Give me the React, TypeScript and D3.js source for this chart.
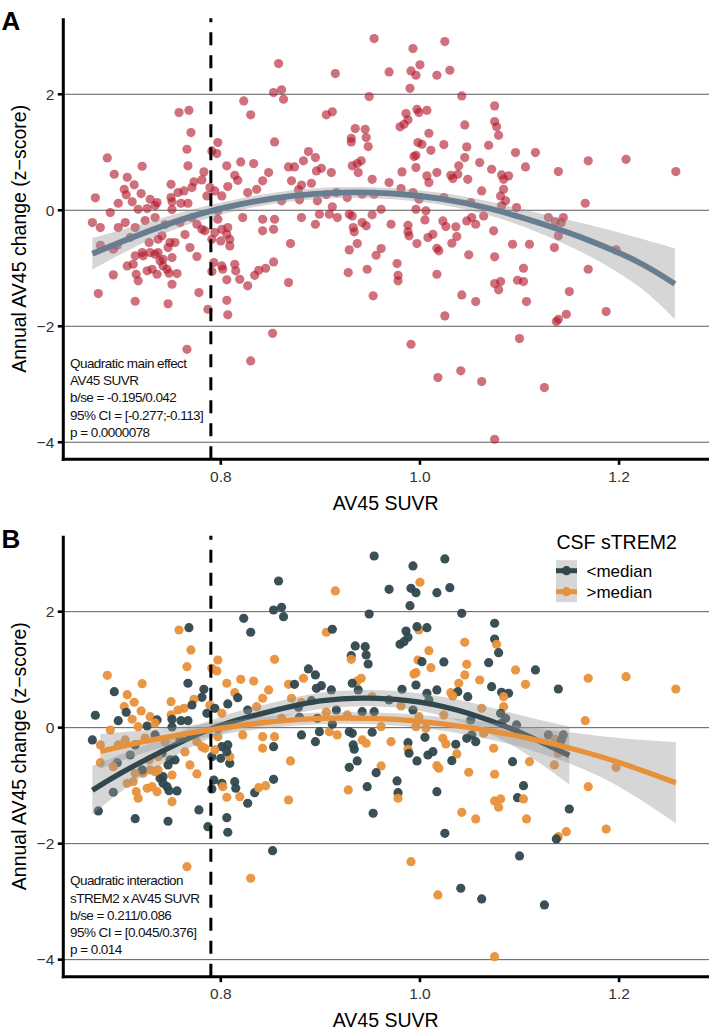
import React from "react";
import * as d3 from "d3";

// ---------- data ----------
const suvr = [
  0.768, 0.758, 0.770, 0.766, 0.797, 0.791, 0.796, 0.823, 0.830, 0.853,
  0.861, 0.863, 0.854, 0.906, 0.912, 0.686, 0.721, 0.693, 0.706, 0.713,
  0.703, 0.705, 0.720, 0.674, 0.697, 0.711, 0.729, 0.736, 0.750, 0.767,
  0.783, 0.781, 0.773, 0.763, 0.757, 0.771, 0.750, 0.760, 0.767, 0.789,
  0.794, 0.786, 0.806, 0.820, 0.833, 0.814, 0.817, 0.807, 0.801, 0.848,
  0.842, 0.868, 0.874, 0.883, 0.888, 0.895, 0.901, 0.896, 0.871, 0.878,
  0.836, 0.827, 0.861, 0.897, 0.911, 0.751, 0.671, 0.679, 0.679, 0.696,
  0.677, 0.692, 0.714, 0.747, 0.717, 0.706, 0.712, 0.715, 0.717, 0.726,
  0.731, 0.736, 0.742, 0.746, 0.748, 0.756, 0.751, 0.739, 0.742, 0.751,
  0.747, 0.749, 0.729, 0.734, 0.737, 0.722, 0.721, 0.714, 0.741, 0.776,
  0.778, 0.787, 0.806, 0.807, 0.791, 0.793, 0.801, 0.802, 0.814, 0.815,
  0.806, 0.819, 0.827, 0.834, 0.838, 0.845, 0.853, 0.868, 0.870, 0.809,
  0.800, 0.791, 0.809, 0.801, 0.807, 0.806, 0.794, 0.781, 0.784, 0.776,
  0.771, 0.797, 0.797, 0.822, 0.842, 0.842, 0.854, 0.853, 0.881, 0.895,
  0.899, 0.909, 0.692, 0.728, 0.737, 0.704, 0.714, 0.724, 0.734, 0.744,
  0.759, 0.764, 0.754, 0.689, 0.697, 0.709, 0.769, 0.726, 0.734, 0.751,
  0.990, 0.949, 1.042, 1.075, 0.999, 0.997, 1.007, 0.986, 0.988, 0.980,
  0.984, 1.075, 1.077, 1.079, 1.045, 0.935, 0.945, 0.931, 0.946, 0.931,
  0.948, 1.009, 0.998, 0.996, 0.994, 1.002, 1.011, 1.024, 1.047, 1.045,
  1.039, 1.060, 1.069, 1.096, 1.116, 1.106, 1.072, 1.082, 1.089, 1.084,
  1.084, 1.139, 1.169, 1.166, 0.937, 0.941, 0.932, 0.938, 0.982, 0.996,
  1.007, 1.017, 1.031, 1.038, 1.048, 1.033, 0.916, 0.942, 0.954, 0.927,
  0.952, 0.969, 0.981, 0.993, 0.999, 1.009, 1.024, 1.051, 1.062, 1.081,
  1.086, 0.954, 0.993, 1.025, 1.000, 0.969, 0.991, 0.996, 1.017, 1.030,
  0.858, 0.915, 1.207, 1.257, 0.929, 0.932, 0.917, 0.952, 0.933, 0.934,
  0.942, 0.946, 0.937, 0.929, 0.961, 0.956, 0.971, 0.988, 0.988, 0.989,
  0.997, 1.005, 1.008, 1.013, 1.023, 1.026, 1.036, 1.037, 1.032, 1.017,
  1.019, 0.947, 0.928, 0.977, 0.978, 0.978, 0.953, 1.017, 1.049, 1.075,
  1.074, 1.047, 1.056, 1.064, 1.093, 1.110, 1.104, 1.098, 1.104, 1.075,
  1.081, 1.079, 1.042, 1.056, 1.025, 1.107, 1.150, 1.147, 1.139, 1.137,
  1.169, 1.129, 1.136, 1.142, 1.144, 1.135, 1.139, 1.097, 1.082, 1.052,
  0.996, 1.006, 0.961, 1.187, 1.197, 0.991, 1.018, 1.041, 1.062, 1.100,
  1.125, 1.075, 0.852, 0.766, 0.830, 0.891, 0.879, 0.881, 0.906, 0.912,
];

const zChange = [
  1.724, 1.684, 1.340, 1.052, 1.167, 1.024, 0.978, 1.886, 1.645, 2.029,
  2.076, 1.914, 1.179, 1.645, 1.697, 0.903, 0.759, 0.621, 0.569, 0.438,
  0.362, 0.266, 0.288, 0.214, 0.121, 0.145, 0.190, 0.133, 0.448, 0.766,
  0.662, 0.524, 0.490, 0.334, 0.305, 0.391, 0.219, 0.121, 0.121, 0.391,
  0.334, 0.248, 0.766, 0.834, 0.805, 0.603, 0.517, 0.409, 0.248, 0.650,
  0.507, 0.748, 0.748, 0.852, 1.012, 0.909, 0.724, 0.679, 0.507, 0.352,
  0.362, 0.305, 0.162, 0.162, 0.650, 0.145, -0.212, -0.298, -0.603, -0.603,
  -1.436, -1.114, -1.569, -1.614, 0.017, -0.959, -0.931, -1.103, -1.217, -1.045,
  -1.017, -1.103, -0.959, -1.017, -1.086, -1.091, -1.276, -0.872, -0.845, -0.816,
  -0.643, -0.557, -0.729, -0.759, -0.729, -0.786, -0.729, -0.786, -0.441, -0.798,
  -1.419, -1.707, -1.552, -1.803, -1.057, -0.902, -0.959, -1.017, -0.931, -1.045,
  -1.200, -1.190, -1.303, -1.121, -1.034, -1.000, -0.890, -1.247, -0.574, -0.614,
  -0.528, -0.500, -0.500, -0.328, -0.298, -0.414, -0.384, -0.328, -0.355, -0.241,
  -0.126, -0.155, -0.010, -0.126, -0.355, -0.155, -0.155, -0.328, -0.126, -0.241,
  -0.069, -0.069, -0.672, -0.557, -0.500, -0.212, -0.298, -0.178, -0.126, -0.247,
  -0.212, -0.419, -0.557, -0.040, -0.298, -0.471, -0.643, 0.029, 0.081, 0.012,
  2.103, 1.960, 1.972, 1.800, 1.684, 1.741, 1.724, 1.667, 1.559, 1.438,
  1.483, 1.529, 1.438, 1.293, 1.472, 1.409, 1.397, 1.241, 1.253, 1.179,
  1.098, 1.328, 1.167, 0.948, 0.926, 1.138, 1.034, 1.133, 1.093, 0.909,
  0.766, 0.822, 1.121, 0.995, 0.995, 0.748, 0.707, 0.610, 0.593, 0.534,
  0.362, 0.667, 0.852, 0.121, 0.805, 0.852, 0.766, 0.650, 0.662, 0.736,
  0.593, 0.650, 0.603, 0.621, 0.534, 0.547, 0.305, 0.276, 0.276, 0.219,
  0.534, 0.478, 0.374, 0.305, 0.190, 0.478, 0.219, 0.133, 0.334, 0.248,
  0.162, 2.960, 2.788, 2.909, 2.507, 2.386, 2.403, 2.328, 2.328, 2.414,
  2.529, 2.357, 0.879, 0.667, -0.069, -0.097, -0.126, -0.079, -0.298, -0.372,
  -0.212, -0.269, -0.574, -0.683, -0.660, -0.776, -0.241, -0.259, -0.372, -0.441,
  -0.574, -0.166, -0.471, -0.414, -0.183, -0.281, -0.286, -0.453, -0.569, -0.655,
  -0.700, -1.017, -1.074, -0.919, -1.121, -1.217, -1.476, -1.103, -0.769, -0.803,
  -0.355, -0.183, -0.241, -0.097, -0.586, -0.586, -1.000, -1.207, -1.229, -1.264,
  -1.229, -1.372, -1.459, -1.574, -1.821, -1.574, -1.402, -1.793, -1.879, -1.919,
  -1.017, -0.126, -0.200, -0.212, -0.126, -0.643, -0.441, 0.047, 0.076, -0.126,
  0.017, -0.010, 0.017, -1.747, -0.683, -2.310, -2.884, -2.769, -2.953, -2.212,
  -3.057, -3.948, -2.121, -2.397, -2.597, 0.466, 0.180, 0.436, 0.270, 0.060,
];

// 0 = <median, 1 = >median CSF sTREM2
const strem2 = [
  0,1,1,1,1,1,1,0,0,0, 0,0,1,1,0,1,1,0,1,1, 1,0,1,0,0,1,1,0,1,0,
  0,0,1,1,1,0,1,0,0,1, 0,0,1,1,1,1,0,0,1,1, 1,1,0,1,0,0,0,0,1,0,
  1,0,1,0,0,0,0,1,1,0, 0,0,0,0,1,1,1,1,1,1, 1,1,0,0,0,0,1,0,0,1,
  0,0,1,1,1,1,0,1,0,1, 0,0,0,0,0,0,0,1,0,0, 1,1,0,0,1,1,0,1,1,0,
  0,0,1,0,0,0,1,1,1,1, 1,1,0,1,1,1,1,0,0,0, 0,1,1,1,1,1,0,1,0,1,
  0,1,0,1,1,0,1,0,1,0, 0,0,0,0,1,0,0,0,0,0, 0,0,1,0,1,0,0,0,0,1,
  0,1,1,1,1,0,1,0,1,1, 1,1,0,1,0,1,0,0,0,1, 1,0,1,1,1,1,0,0,0,0,
  0,0,1,0,0,1,0,0,0,1, 1,0,1,0,1,0,1,0,1,0, 0,0,0,0,1,0,0,0,0,0,
  0,1,1,1,0,0,1,0,0,0, 1,1,0,0,1,0,1,0,1,0, 0,0,0,0,1,1,0,1,0,1,
  1,0,1,0,0,1,0,0,1,1, 1,0,0,1,0,1,0,0,1,1, 1,1,1,1,0,1,0,1,1,0,
  1,0,1,0,0,1,1,0,0,0, 1,1,1,1,1,1,1,0,0,0, 0,1,0,1,1,0,0,1,1,0,
];
const groupLabels = ["<median", ">median"];

// fitted quadratic curves with 95% bands
const fitAllX = [0.671, 0.72, 0.77, 0.82, 0.87, 0.92, 0.97, 1.02, 1.07, 1.12, 1.17, 1.22, 1.256];
const fitAllY = [-0.75, -0.41, -0.11, 0.105, 0.245, 0.305, 0.29, 0.2, 0.03, -0.22, -0.52, -0.9, -1.27];
const fitAllLo = [-1.02, -0.58, -0.23, 0.005, 0.15, 0.21, 0.195, 0.1, -0.09, -0.39, -0.79, -1.32, -1.88];
const fitAllHi = [-0.48, -0.24, 0.01, 0.205, 0.34, 0.4, 0.385, 0.3, 0.15, -0.05, -0.25, -0.48, -0.66];

const fitLowX = [0.671, 0.70, 0.75, 0.80, 0.85, 0.90, 0.95, 1.00, 1.05, 1.10, 1.150];
const fitLowY = [-1.08, -0.78, -0.33, 0.04, 0.28, 0.46, 0.51, 0.44, 0.24, -0.08, -0.48];
const fitLowLo = [-1.5, -1.1, -0.53, -0.11, 0.14, 0.32, 0.37, 0.29, 0.04, -0.38, -0.98];
const fitLowHi = [-0.66, -0.46, -0.13, 0.19, 0.42, 0.6, 0.65, 0.59, 0.44, 0.22, 0.02];

const fitHighX = [0.679, 0.72, 0.76, 0.80, 0.85, 0.90, 0.95, 1.00, 1.05, 1.10, 1.15, 1.20, 1.257];
const fitHighY = [-0.41, -0.25, -0.12, -0.01, 0.1, 0.16, 0.16, 0.11, 0.0, -0.15, -0.35, -0.6, -0.95];
const fitHighLo = [-0.71, -0.45, -0.26, -0.12, 0.0, 0.06, 0.06, 0.0, -0.13, -0.33, -0.62, -1.02, -1.65];
const fitHighHi = [-0.11, -0.05, 0.02, 0.1, 0.2, 0.26, 0.26, 0.22, 0.13, 0.03, -0.08, -0.18, -0.25];

const xTicks = [0.8, 1.0, 1.2];
const yTicks = [-4, -2, 0, 2];
const cutoff = 0.79;
const xLim = [0.6418, 1.2893];
const yLim = [-4.294, 3.31];

const annotA = ["Quadratic main effect", "AV45 SUVR", "b/se = -0.195/0.042", "95% CI = [-0.277;-0.113]", "p = 0.0000078"];
const annotB = ["Quadratic interaction", "sTREM2 x AV45 SUVR", "b/se = 0.211/0.086", "95% CI = [0.045/0.376]", "p = 0.014"];

// ---------- styling ----------
const FONT = "'Liberation Sans', Arial, Helvetica, sans-serif";
const RED = "#B2182B";
const SLATE = "#687D8F";
const DARK = "#2F474D";
const ORANGE = "#E8913A";
const groupColors = [DARK, ORANGE];
const RIBBON = "#999999";
const R = 4.6;

const fmt = (v: number) => (v < 0 ? "\u2212" + Math.abs(v) : String(v));

export default function App() {
  const x = d3.scaleLinear().domain(xLim).range([63.3, 708]);
  const left = x(xLim[0]);
  const right = 709;

  const panel = (
    key: string,
    y: d3.ScaleLinear<number, number>,
    annot: string[],
    content: React.ReactNode
  ) => {
    const bottom = y(yLim[0]);
    const top = y(yLim[1]);
    const mid = (top + bottom) / 2;
    return (
      <g key={key}>
        {yTicks.map((t) => (
          <line key={"g" + t} x1={left} x2={right} y1={y(t)} y2={y(t)} stroke="#4a4a4a" strokeWidth={0.9} />
        ))}
        {content}
        <line
          x1={x(cutoff)} x2={x(cutoff)} y1={bottom} y2={top}
          stroke="#000" strokeWidth={3} strokeDasharray="13 10"
        />
        {annot.map((s, i) => (
          <text key={"a" + i} x={70} y={bottom - 91.4 + 17.2 * i} fontSize={13.5}
            letterSpacing={-0.55} fontFamily={FONT} fill="#111">{s}</text>
        ))}
        {/* axes */}
        <line x1={left} x2={left} y1={top} y2={bottom + 1.5} stroke="#000" strokeWidth={3} />
        <line x1={left - 1.5} x2={right} y1={bottom} y2={bottom} stroke="#000" strokeWidth={3} />
        {yTicks.map((t) => (
          <g key={"yt" + t}>
            <line x1={left - 5.5} x2={left} y1={y(t)} y2={y(t)} stroke="#000" strokeWidth={2.6} />
            <text x={left - 9} y={y(t) + 5.5} textAnchor="end" fontSize={15.5} fontFamily={FONT} fill="#333">{fmt(t)}</text>
          </g>
        ))}
        {xTicks.map((t) => (
          <g key={"xt" + t}>
            <line x1={x(t)} x2={x(t)} y1={bottom} y2={bottom + 5.5} stroke="#000" strokeWidth={2.6} />
            <text x={x(t)} y={bottom + 22.5} textAnchor="middle" fontSize={15.5} fontFamily={FONT} fill="#333">{t.toFixed(1)}</text>
          </g>
        ))}
        <text x={(left + 708) / 2} y={bottom + 50.5} textAnchor="middle" fontSize={19.5} fontFamily={FONT} fill="#000">AV45 SUVR</text>
        <text transform={`translate(25.5,${mid}) rotate(-90)`} textAnchor="middle" fontSize={19.5} fontFamily={FONT} fill="#000">
          Annual AV45 change (z{"\u2212"}score)
        </text>
        <text x={1.5} y={top + 12} fontSize={26} fontWeight="bold" fontFamily={FONT} fill="#000">{key}</text>
      </g>
    );
  };

  const smooth = (
    y: d3.ScaleLinear<number, number>,
    X: number[], Y: number[], lo: number[], hi: number[],
    color: string, width: number, k: string
  ) => {
    const idx = X.map((_, i) => i);
    const area = d3.area<number>().x((i) => x(X[i])).y0((i) => y(lo[i])).y1((i) => y(hi[i])).curve(d3.curveNatural);
    const line = d3.line<number>().x((i) => x(X[i])).y((i) => y(Y[i])).curve(d3.curveNatural);
    return (
      <g key={k}>
        <path d={area(idx) || ""} fill={RIBBON} fillOpacity={0.4} />
        <path d={line(idx) || ""} fill="none" stroke={color} strokeWidth={width} />
      </g>
    );
  };

  const yA = d3.scaleLinear().domain(yLim).range([459.3, 18.3]);
  const yB = d3.scaleLinear().domain(yLim).range([976.7, 535.7]);

  const contentA = (
    <g>
      {suvr.map((v, i) => (
        <circle key={i} cx={x(v)} cy={yA(zChange[i])} r={R} fill={RED} fillOpacity={0.62} />
      ))}
      {smooth(yA, fitAllX, fitAllY, fitAllLo, fitAllHi, SLATE, 5.8, "sA")}
    </g>
  );

  const contentB = (
    <g>
      {suvr.map((v, i) => (
        <circle key={i} cx={x(v)} cy={yB(zChange[i])} r={R} fill={groupColors[strem2[i]]} fillOpacity={0.95} />
      ))}
      {smooth(yB, fitLowX, fitLowY, fitLowLo, fitLowHi, DARK, 5.3, "sB0")}
      {smooth(yB, fitHighX, fitHighY, fitHighLo, fitHighHi, ORANGE, 5.3, "sB1")}
      {/* legend */}
      <text x={556.5} y={548.5} fontSize={19.5} fontFamily={FONT} fill="#000">CSF sTREM2</text>
      {groupLabels.map((lab, i) => {
        const cy = 570.7 + 21 * i;
        return (
          <g key={lab}>
            <rect x={556} y={cy - 10.5} width={21} height={21} fill={RIBBON} fillOpacity={0.4} />
            <line x1={556} x2={577} y1={cy} y2={cy} stroke={groupColors[i]} strokeWidth={5} />
            <circle cx={566.5} cy={cy} r={R} fill={groupColors[i]} />
            <text x={586.5} y={cy + 6} fontSize={17} fontFamily={FONT} fill="#000">{lab}</text>
          </g>
        );
      })}
    </g>
  );

  return (
    <svg width={709} height={1032} style={{ position: "absolute", left: 0, top: 0, background: "#fff" }}>
      <rect width={709} height={1032} fill="#fff" />
      {panel("A", yA, annotA, contentA)}
      {panel("B", yB, annotB, contentB)}
    </svg>
  );
}
